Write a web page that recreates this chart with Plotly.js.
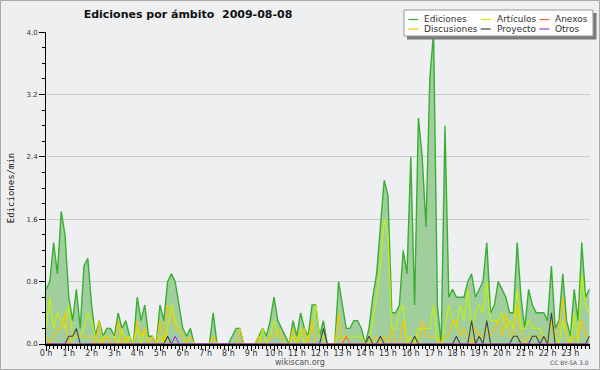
<!DOCTYPE html>
<html>
<head>
<meta charset="utf-8">
<script src="https://cdn.plot.ly/plotly-3.0.1.min.js"></script>
<style>html,body{margin:0;padding:0;background:#eeeff1;}#chart{width:600px;height:370px;}</style>
</head>
<body>
<div id="chart"></div>
<script>
// Time axis: one sample every 10 minutes over the day (hours)
const stepHours = 1 / 6;
const hourTicks = [0,1,2,3,4,5,6,7,8,9,10,11,12,13,14,15,16,17,18,19,20,21,22,23];
const hourLabels = ['0 h','1 h','2 h','3 h','4 h','5 h','6 h','7 h','8 h','9 h','10 h','11 h','12 h','13 h','14 h','15 h','16 h','17 h','18 h','19 h','20 h','21 h','22 h','23 h'];
const yTicks = [0, 0.8, 1.6, 2.4, 3.2, 4.0];
const yLabels = ['0.0', '0.8', '1.6', '2.4', '3.2', '4.0'];

// Edits per minute, 10-minute buckets
const ediciones = [
0.7,0.8,1.3,0.9,1.7,1.4,0.6,0.3,0.7,0.2,
1.0,1.1,0.5,0.1,0.3,0.1,0.2,0.2,0.1,0.4,
0.2,0.3,0.1,0.0,0.6,0.3,0.5,0.1,0.1,0.0,
0.5,0.3,0.8,0.9,0.8,0.5,0.2,0.1,0.2,0.0,
0.0,0.0,0.0,0.0,0.4,0.0,0.0,0.0,0.0,0.1,
0.2,0.2,0.0,0.0,0.0,0.0,0.1,0.2,0.1,0.3,
0.6,0.3,0.2,0.1,0.0,0.3,0.1,0.4,0.2,0.1,
0.5,0.5,0.1,0.3,0.0,0.0,0.0,0.8,0.5,0.2,
0.2,0.3,0.3,0.2,0.0,0.2,0.6,0.9,1.5,2.1,
1.9,0.4,0.4,0.5,1.2,0.9,2.4,0.5,2.9,2.4,
1.5,3.4,4.0,0.5,0.0,2.8,0.6,0.7,0.6,0.6,
0.6,0.8,0.9,0.6,0.7,0.8,1.3,0.4,0.5,0.8,
0.7,0.6,0.4,0.4,1.3,0.6,0.2,0.7,0.5,0.4,
0.4,0.4,0.3,1.0,0.2,0.3,0.9,0.3,0.1,0.7,
0.3,1.3,0.6,0.7
];
const articulos = [
0.2,0.6,0.2,0.4,0.3,0.2,0.5,0.1,0.1,0.1,
0.2,0.4,0.3,0.1,0.0,0.1,0.1,0.1,0.1,0.0,
0.2,0.0,0.1,0.0,0.2,0.0,0.2,0.0,0.0,0.0,
0.1,0.0,0.2,0.5,0.3,0.2,0.1,0.0,0.0,0.0,
0.0,0.0,0.0,0.0,0.1,0.0,0.0,0.0,0.0,0.0,
0.0,0.0,0.0,0.0,0.0,0.0,0.0,0.2,0.0,0.1,
0.3,0.1,0.1,0.0,0.0,0.1,0.0,0.2,0.0,0.1,
0.2,0.5,0.1,0.1,0.0,0.0,0.0,0.1,0.1,0.1,
0.1,0.1,0.1,0.1,0.0,0.0,0.3,0.6,1.0,1.6,
1.4,0.2,0.2,0.4,0.5,0.0,0.1,0.0,0.2,0.2,
0.2,0.2,0.5,0.0,0.0,0.2,0.5,0.3,0.2,0.5,
0.3,0.7,0.2,0.4,0.5,0.4,0.8,0.3,0.3,0.3,
0.4,0.2,0.3,0.2,0.7,0.2,0.2,0.3,0.2,0.2,
0.2,0.1,0.0,0.3,0.1,0.0,0.3,0.1,0.0,0.4,
0.0,0.9,0.5,0.4
];
const discusiones = [
0.1,0.0,0.1,0.2,0.2,0.4,0.0,0.1,0.1,0.1,
0.1,0.1,0.1,0.0,0.3,0.0,0.1,0.0,0.0,0.3,
0.0,0.1,0.0,0.0,0.3,0.1,0.2,0.0,0.1,0.0,
0.3,0.0,0.5,0.4,0.2,0.2,0.1,0.0,0.1,0.0,
0.0,0.0,0.0,0.0,0.1,0.0,0.0,0.0,0.0,0.0,
0.0,0.2,0.0,0.0,0.0,0.0,0.1,0.0,0.0,0.1,
0.1,0.2,0.1,0.0,0.0,0.2,0.0,0.1,0.2,0.0,
0.3,0.0,0.0,0.0,0.0,0.0,0.0,0.4,0.0,0.0,
0.0,0.0,0.0,0.0,0.0,0.1,0.0,0.1,0.0,0.1,
0.0,0.2,0.0,0.0,0.3,0.0,0.0,0.0,0.0,0.3,
0.1,0.1,0.1,0.1,0.0,0.1,0.1,0.3,0.3,0.1,
0.2,0.1,0.0,0.2,0.1,0.1,0.2,0.1,0.2,0.3,
0.1,0.4,0.1,0.1,0.5,0.1,0.0,0.1,0.1,0.1,
0.1,0.1,0.0,0.3,0.1,0.2,0.6,0.1,0.0,0.1,
0.1,0.3,0.1,0.1
];
const proyecto = [
0,0,0,0,0,0,0.1,0.1,0.2,0,
0,0,0,0,0,0,0,0,0,0,
0,0,0,0,0,0,0,0,0,0,
0,0,0.1,0,0,0,0,0,0,0,
0,0,0,0,0,0,0,0,0,0,
0,0,0,0,0,0,0,0,0,0,
0,0,0,0,0,0,0,0,0,0,
0,0,0,0.2,0,0,0,0,0,0,
0,0,0,0,0,0.1,0,0,0.1,0,
0,0,0,0,0,0,0,0.1,0,0,
0,0,0,0,0,0,0,0,0.1,0,
0,0,0.3,0,0.1,0,0.3,0,0,0,
0,0,0,0.1,0.1,0,0,0,0.1,0.1,
0,0.1,0,0.4,0,0,0,0,0,0,
0,0,0,0.1
];
const anexos = [
0,0,0,0,0,0,0,0,0,0, 0,0,0,0,0,0,0,0,0,0, 0,0,0,0,0,0,0,0,0,0,
0,0,0,0,0,0,0,0,0,0, 0,0,0,0,0,0,0,0,0,0, 0,0,0,0,0,0,0,0,0,0,
0,0,0,0,0,0,0,0,0,0, 0,0,0,0,0,0,0,0,0,0.1, 0,0,0,0,0,0,0,0,0,0,
0,0,0,0,0,0,0,0,0,0, 0,0,0,0,0,0,0,0,0,0, 0,0,0,0,0,0,0,0,0,0,
0,0,0,0,0,0,0,0,0,0, 0,0,0,0,0,0,0,0,0,0, 0,0,0,0
];
const otros = [
0,0,0,0,0,0,0,0,0,0, 0,0,0,0,0,0,0,0,0,0, 0,0,0,0,0,0,0,0,0,0,
0,0,0,0,0.1,0,0,0,0,0, 0,0,0,0,0,0,0,0,0,0, 0,0,0,0,0,0,0,0,0,0,
0,0,0,0,0,0,0,0,0,0, 0,0,0,0,0,0,0,0,0,0, 0,0,0,0,0,0,0,0,0,0,
0,0,0,0,0,0,0,0,0,0, 0,0,0,0,0,0,0,0,0,0, 0,0,0,0,0,0,0,0,0,0,
0,0,0,0,0,0,0,0,0,0, 0,0,0,0,0,0,0,0,0,0, 0,0,0,0
];

// legend order (row by row, three per row)
const seriesNames = ['Ediciones', 'Artículos', 'Anexos', 'Discusiones', 'Proyecto', 'Otros'];
const seriesColors = ['#3aae34', '#c4f200', '#ff6a33', '#f7c600', '#444444', '#9a3cf0'];
const seriesData = [ediciones, articulos, anexos, discusiones, proyecto, otros];

const times = ediciones.map((_, i) => i * stepHours);
const FONT = 'DejaVu Sans, Verdana, sans-serif';

const traces = [
  {type: 'scatter', mode: 'lines', x: times, y: ediciones, fill: 'tozeroy',
   fillcolor: '#a0cf9d', line: {width: 0}, showlegend: false, hoverinfo: 'skip'}
];
// draw order: Ediciones line first, then the namespaces on top
[0, 1, 3, 2, 4, 5].forEach(k => traces.push({
  type: 'scatter', mode: 'lines', name: seriesNames[k], x: times, y: seriesData[k],
  line: {color: seriesColors[k], width: k === 0 ? 1.4 : 1.1}, showlegend: false, hoverinfo: 'skip'
}));

// pixel -> paper helpers for decoration placement
const L = 46, R = 10, T = 32, B = 26, W = 600, H = 370;
const pw = W - L - R, ph = H - T - B;
const px = v => (v - L) / pw;
const py = v => (H - B - v) / ph;

const shapes = [
  {type: 'rect', xref: 'paper', yref: 'paper', x0: px(0.5), x1: px(599.5), y0: py(369.5), y1: py(0.5),
   fillcolor: 'rgba(0,0,0,0)', line: {color: '#aaa', width: 1}, layer: 'below'},
  // legend shadow and box
  {type: 'rect', xref: 'paper', yref: 'paper', x0: px(407), x1: px(596.5), y0: py(39.5), y1: py(13),
   fillcolor: '#7a7a7a', line: {width: 0}, layer: 'above'},
  {type: 'rect', xref: 'paper', yref: 'paper', x0: px(404), x1: px(593), y0: py(36), y1: py(10),
   fillcolor: '#fdfdfd', line: {color: '#999', width: 1}, layer: 'above'}
];
const annotations = [
  {text: 'wikiscan.org', xref: 'paper', yref: 'paper', x: px(300), y: py(362.5), xanchor: 'center', yanchor: 'middle',
   showarrow: false, font: {family: FONT, size: 8, color: '#555'}},
  {text: 'CC BY-SA 3.0', xref: 'paper', yref: 'paper', x: px(591), y: py(362.5), xanchor: 'right', yanchor: 'middle',
   showarrow: false, font: {family: FONT, size: 6, color: '#555'}}
];
// custom legend: 3 columns x 2 rows
const colX = [408.3, 480.7, 539.3];
const rowY = [19.5, 29];
seriesNames.forEach((name, k) => {
  const cx = colX[k % 3], cy = rowY[Math.floor(k / 3)];
  shapes.push({type: 'line', xref: 'paper', yref: 'paper', x0: px(cx), x1: px(cx + 10), y0: py(cy), y1: py(cy),
               line: {color: seriesColors[k], width: 1.2}, layer: 'above'});
  annotations.push({text: name, xref: 'paper', yref: 'paper', x: px(cx + 14), y: py(cy), xanchor: 'left', yanchor: 'middle',
                    showarrow: false, font: {family: FONT, size: 9, color: '#333'}});
});

const layout = {
  width: W, height: H,
  margin: {l: L, r: R, t: T, b: B},
  paper_bgcolor: '#eeeff1', plot_bgcolor: '#eeeff1',
  font: {family: FONT, color: '#333'},
  showlegend: false,
  title: {text: '<b>Ediciones por ámbito  2009-08-08</b>', font: {family: 'DejaVu Sans', size: 11, color: '#111'},
          x: 188 / W, xref: 'container', xanchor: 'center', y: 1 - 14.5 / H, yref: 'container', yanchor: 'middle'},
  xaxis: {range: [0, 23.86], tickvals: hourTicks, ticktext: hourLabels, ticks: 'outside', ticklen: 5,
          tickcolor: '#000', tickwidth: 1, showline: true, linecolor: '#000', linewidth: 2,
          showgrid: false, zeroline: false, tickfont: {size: 8, color: '#333'}, ticklabelstandoff: -5,
          minor: {dtick: stepHours, ticks: 'outside', ticklen: 3, tickcolor: '#000', showgrid: false},
          fixedrange: true},
  yaxis: {range: [0, 4.002], tickvals: yTicks, ticktext: yLabels, ticks: 'outside', ticklen: 6,
          tickcolor: '#000', showline: true, linecolor: '#000', linewidth: 1,
          showgrid: true, gridcolor: '#c9c9c9', gridwidth: 1, zeroline: false,
          tickfont: {size: 7, color: '#333'},
          minor: {dtick: 0.2, ticks: 'outside', ticklen: 3, tickcolor: '#000', showgrid: false},
          title: {text: 'Ediciones/min', font: {family: 'DejaVu Sans Mono', size: 9, color: '#111'}, standoff: 10},
          fixedrange: true},
  shapes: shapes,
  annotations: annotations
};

Plotly.newPlot('chart', traces, layout, {displayModeBar: false, staticPlot: true});
</script>
</body>
</html>
